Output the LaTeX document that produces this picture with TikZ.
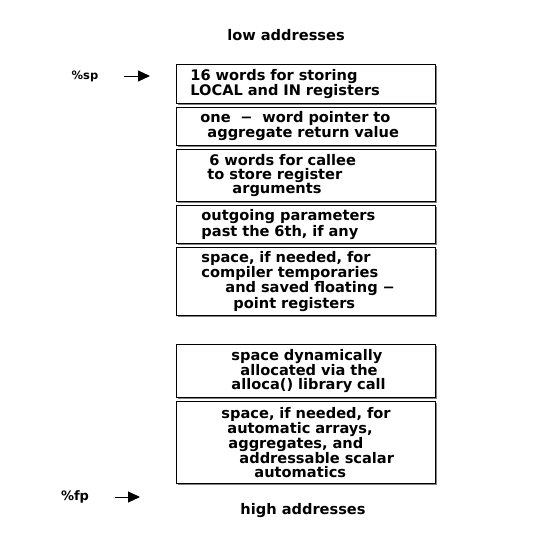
\documentclass[tikz,border=0pt]{standalone}
\usepackage{fontspec}
\setmainfont{DejaVu Sans}
\usetikzlibrary{arrows.meta,shadows}

\tikzset{
  frame/.style={draw, line width=0.9pt, fill=white, anchor=north west,
    inner xsep=0pt, inner ysep=0pt, text width=259pt, minimum width=259pt,
    align=left, font=\bfseries\fontsize{14.6}{14}\selectfont,
    drop shadow={shadow xshift=2pt, shadow yshift=-2pt, fill=black!50, opacity=1}},
  tag/.style={font=\bfseries\fontsize{14.6}{14}\selectfont},
  ptr/.style={line width=1pt, -{Triangle[length=12pt,width=11pt]}}
}
\newcommand{\ind}[1]{\hspace*{#1pt}}

\begin{document}
\begin{tikzpicture}[x=1pt,y=-1pt]
\useasboundingbox (0,0) rectangle (550,546);

%% labels
\node[tag] (low) at (286,35) {low addresses};
\node[tag] (high) at (303,511) {high addresses};
\node[tag, font=\bfseries\fontsize{11.5}{12}\selectfont] (sp) at (85,76) {\%sp};
\node[tag, font=\bfseries\fontsize{13}{12}\selectfont] (fp) at (75,497) {\%fp};

%% frame slots
\node[frame, minimum height=39pt] (locals) at (176,64)
  {\ind{14}16 words for storing\\\ind{14}LOCAL and IN registers};
\node[frame, minimum height=38pt] (aggr) at (176,107)
  {\ind{24}one \ − \ word pointer to\\\ind{31}aggregate return value};
\node[frame, minimum height=52pt] (callee) at (176,149)
  {\ind{33}6 words for callee\\\ind{31}to store register\\\ind{56}arguments};
\node[frame, minimum height=38pt] (params) at (176,205)
  {\ind{25}outgoing parameters\\\ind{25}past the 6th, if any};
\node[frame, minimum height=68pt] (temps) at (176,247)
  {\ind{25}space, if needed, for\\\ind{25}compiler temporaries\\\ind{49}and saved floating −\\\ind{57}point registers};

\node[frame, minimum height=53pt] (alloca) at (176,344)
  {\ind{55}space dynamically\\\ind{64}allocated via the\\\ind{55}alloca() library call};
\node[frame, minimum height=82pt] (autos) at (176,401)
  {\ind{45}space, if needed, for\\\ind{51}automatic arrays,\\\ind{52}aggregates, and\\\ind{63}addressable scalar\\\ind{78}automatics};

%% pointers
\coordinate (sp tail) at (124,76);
\coordinate (sp head) at (150,76);
\coordinate (fp tail) at (115,497);
\coordinate (fp head) at (140,497);
\draw[ptr] (sp tail) -- (sp head);
\draw[ptr] (fp tail) -- (fp head);

\end{tikzpicture}
\end{document}
